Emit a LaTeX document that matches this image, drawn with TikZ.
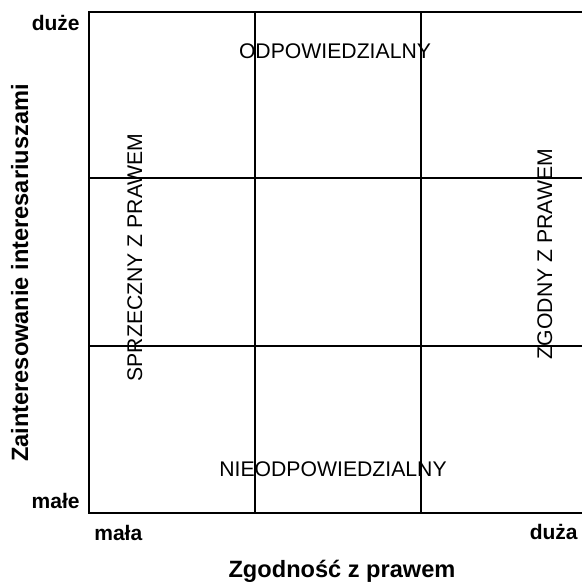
\documentclass[tikz,border=0pt]{standalone}
\usepackage{fontspec}
\setmainfont{Liberation Sans}

\begin{document}
\begin{tikzpicture}[x=0.5pt,y=0.5pt,line cap=rect,
  axislab/.style={font=\fontsize{11.8}{13}\selectfont\bfseries},
  endlab/.style={font=\fontsize{10.5}{12}\selectfont\bfseries},
  celllab/.style={font=\fontsize{10.6}{12}\selectfont,inner sep=0pt}]
\useasboundingbox (0,0) rectangle (582,582);
\begin{scope}
\clip (0,0) rectangle (582,582);
\draw[line width=0.7pt] (255,69) -- (255,570);
\draw[line width=0.7pt] (421,69) -- (421,570);
\draw[line width=0.7pt] (89,404) -- (587,404);
\draw[line width=0.7pt] (89,236) -- (587,236);
\draw[line width=1.2pt] (587,570) -- (89,570) -- (89,69) -- (587,69);
\end{scope}
% labels of the two scales
\node[endlab,anchor=base east,inner sep=0pt] (duze) at (80,551) {duże};
\node[endlab,anchor=base east,inner sep=0pt] (male) at (80,73) {małe};
\node[endlab,anchor=base west,inner sep=0pt] (mala) at (94,41) {mała};
\node[endlab,anchor=base east,inner sep=0pt] (duza) at (578,42) {duża};
\node[axislab,anchor=base,inner sep=0pt] (zgodnosc) at (342,4) {Zgodność z prawem};
\node[axislab,anchor=base,inner sep=0pt,rotate=90] (zaint) at (28,309) {Zainteresowanie interesariuszami};
% the four fields
\node[celllab,anchor=base] (odp) at (335,523) {ODPOWIEDZIALNY};
\node[celllab,anchor=base] (nieodp) at (333,105) {NIEODPOWIEDZIALNY};
\node[celllab,anchor=base,rotate=90] (sprz) at (142,324.5) {SPRZECZNY Z PRAWEM};
\node[celllab,anchor=base,rotate=90] (zgod) at (552,328) {ZGODNY Z PRAWEM};
\end{tikzpicture}
\end{document}
